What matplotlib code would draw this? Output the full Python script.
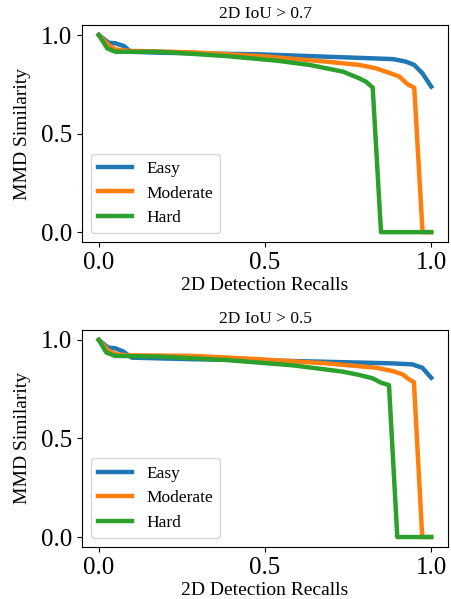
import matplotlib
matplotlib.use("Agg")
import matplotlib.pyplot as plt

plt.rcParams['font.family'] = ['Liberation Serif', 'DejaVu Serif']

titles = ["2D IoU > 0.7", "2D IoU > 0.5"]
series_names = ["Easy", "Moderate", "Hard"]
colors = ["#1f77b4", "#ff7f0e", "#2ca02c"]

# Panel 1 (IoU > 0.7)
easy_x_07 = [0.0, 0.03, 0.05, 0.076, 0.096, 0.186, 0.485, 0.685, 0.884, 0.924, 0.949, 0.974, 1.0]
easy_y_07 = [1.0, 0.961, 0.958, 0.944, 0.915, 0.910, 0.902, 0.890, 0.878, 0.865, 0.848, 0.805, 0.738]
mod_x_07 = [0.0, 0.03, 0.05, 0.086, 0.285, 0.485, 0.685, 0.784, 0.834, 0.884, 0.904, 0.929, 0.949, 0.974, 1.0]
mod_y_07 = [1.0, 0.949, 0.927, 0.920, 0.912, 0.893, 0.865, 0.848, 0.831, 0.802, 0.789, 0.750, 0.733, 0.0, 0.0]
hard_x_07 = [0.0, 0.026, 0.05, 0.186, 0.385, 0.535, 0.635, 0.735, 0.784, 0.804, 0.824, 0.849, 1.0]
hard_y_07 = [1.0, 0.932, 0.915, 0.915, 0.893, 0.870, 0.848, 0.814, 0.780, 0.763, 0.733, 0.0, 0.0]

# Panel 2 (IoU > 0.5)
easy_x_05 = [0.0, 0.028, 0.049, 0.074, 0.099, 0.284, 0.584, 0.883, 0.943, 0.973, 1.0]
easy_y_05 = [1.0, 0.961, 0.958, 0.941, 0.910, 0.902, 0.893, 0.881, 0.876, 0.859, 0.808]
mod_x_05 = [0.0, 0.028, 0.054, 0.084, 0.284, 0.484, 0.684, 0.834, 0.884, 0.914, 0.933, 0.948, 0.973, 1.0]
mod_y_05 = [1.0, 0.947, 0.927, 0.922, 0.919, 0.902, 0.881, 0.859, 0.842, 0.825, 0.800, 0.786, 0.0, 0.0]
hard_x_05 = [0.0, 0.023, 0.049, 0.184, 0.384, 0.584, 0.734, 0.784, 0.824, 0.849, 0.873, 0.898, 1.0]
hard_y_05 = [1.0, 0.936, 0.919, 0.915, 0.898, 0.871, 0.839, 0.822, 0.805, 0.783, 0.771, 0.0, 0.0]

panels = [
    [(easy_x_07, easy_y_07), (mod_x_07, mod_y_07), (hard_x_07, hard_y_07)],
    [(easy_x_05, easy_y_05), (mod_x_05, mod_y_05), (hard_x_05, hard_y_05)],
]

xticks = [0.0, 0.5, 1.0]
yticks = [0.0, 0.5, 1.0]
tick_labels = ["0.0", "0.5", "1.0"]

fig = plt.figure(figsize=(4.51, 5.99), dpi=100)
rects = [[0.182, 0.596, 0.811, 0.362], [0.182, 0.087, 0.811, 0.362]]

for rect, title, data in zip(rects, titles, panels):
    ax = fig.add_axes(rect)
    for (x, y), name, c in zip(data, series_names, colors):
        ax.plot(x, y, color=c, lw=3.2, label=name)
    ax.set_title(title, fontsize=12.5, pad=5)
    ax.set_xticks(xticks)
    ax.set_xticklabels(tick_labels)
    ax.set_yticks(yticks)
    ax.set_yticklabels(tick_labels)
    ax.tick_params(labelsize=18)
    ax.set_xlabel("2D Detection Recalls", fontsize=14, labelpad=2.5)
    ax.set_ylabel("MMD Similarity", fontsize=14, labelpad=7)
    ax.legend(loc="lower left", fontsize=12.5)

fig.savefig("out.png", dpi=100)
